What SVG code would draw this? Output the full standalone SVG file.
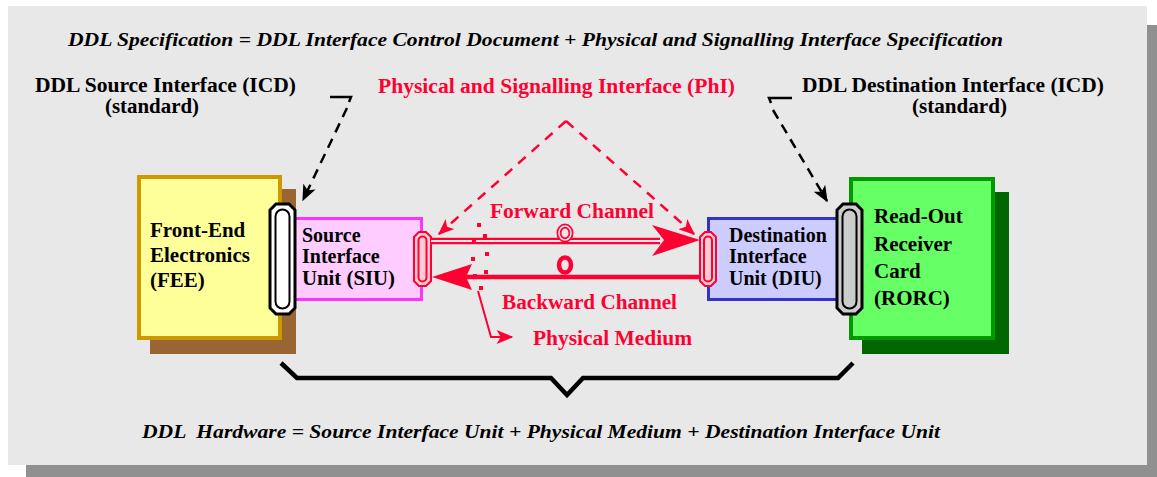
<svg xmlns="http://www.w3.org/2000/svg" width="1157" height="477" viewBox="0 0 1157 477">
<style>
.t{font-family:"Liberation Serif","Times New Roman",serif;font-weight:bold;font-size:20px;fill:#000}
.b{font-size:21px}
.ti{font-family:"Liberation Serif","Times New Roman",serif;font-weight:bold;font-style:italic;font-size:19.5px;fill:#000}
.r{fill:#ff0033}
.dashk{fill:none;stroke:#000;stroke-width:2.5;stroke-dasharray:10 7}
.dashr{fill:none;stroke:#ff0033;stroke-width:2.5;stroke-dasharray:10 8}
.conR{fill:#ffccd5;stroke:#ff0033;stroke-width:2}
</style>
<defs>
<marker id="ak" viewBox="0 0 12 10" refX="11" refY="5" markerWidth="6.5" markerHeight="5.5" orient="auto" markerUnits="strokeWidth">
<path d="M0,0 L12,5 L0,10 L3,5 Z" fill="#000"/>
</marker>
<marker id="ar" viewBox="0 0 12 10" refX="11" refY="5" markerWidth="6.5" markerHeight="5.5" orient="auto" markerUnits="strokeWidth">
<path d="M0,0 L12,5 L0,10 L3,5 Z" fill="#ff0033"/>
</marker>
<marker id="ar2" viewBox="0 0 12 10" refX="11" refY="5" markerWidth="9" markerHeight="7" orient="auto" markerUnits="strokeWidth">
<path d="M0,0 L12,5 L0,10 L3,5 Z" fill="#ff0033"/>
</marker>
</defs>

<g id="background">
<rect x="26" y="25" width="1131" height="452" fill="#909090"/>
<rect x="8" y="6" width="1139" height="459" fill="#e8e8e8"/>
</g>

<g id="titles">
<text class="ti" x="68" y="46" textLength="935" lengthAdjust="spacingAndGlyphs">DDL Specification = DDL Interface Control Document + Physical and Signalling Interface Specification</text>
<text class="ti" x="142" y="438" textLength="798" lengthAdjust="spacingAndGlyphs" xml:space="preserve">DDL  Hardware = Source Interface Unit + Physical Medium + Destination Interface Unit</text>
</g>

<g id="label-source-icd">
<text class="t" x="35" y="92" textLength="261" lengthAdjust="spacingAndGlyphs">DDL Source Interface (ICD)</text>
<text class="t" x="105" y="113" textLength="94" lengthAdjust="spacingAndGlyphs">(standard)</text>
</g>
<g id="label-phi">
<text class="t r" x="378" y="93" textLength="357" lengthAdjust="spacingAndGlyphs">Physical and Signalling Interface (PhI)</text>
</g>
<g id="label-dest-icd">
<text class="t" x="802" y="92" textLength="302" lengthAdjust="spacingAndGlyphs">DDL Destination Interface (ICD)</text>
<text class="t" x="912" y="113" textLength="95" lengthAdjust="spacingAndGlyphs">(standard)</text>
</g>

<g id="fee">
<rect x="150" y="189" width="146" height="165" fill="#996633"/>
<rect x="139" y="177" width="141" height="161" fill="#ffff99" stroke="#cc9900" stroke-width="4"/>
<text class="t b" x="150" y="237">Front-End</text>
<text class="t b" x="150" y="262">Electronics</text>
<text class="t b" x="150" y="287">(FEE)</text>
</g>

<g id="rorc">
<rect x="862" y="192" width="147" height="162" fill="#006600"/>
<rect x="851" y="179" width="142" height="159" fill="#66ff66" stroke="#009900" stroke-width="4"/>
<text class="t b" x="874" y="223">Read-Out</text>
<text class="t b" x="874" y="251">Receiver</text>
<text class="t b" x="874" y="278">Card</text>
<text class="t b" x="874" y="305">(RORC)</text>
</g>

<g id="siu">
<rect x="294.5" y="218.5" width="127" height="81" fill="#ffccff" stroke="#ff33ff" stroke-width="3"/>
<text class="t" x="302" y="242">Source</text>
<text class="t" x="302" y="263">Interface</text>
<text class="t" x="302" y="285" textLength="93" lengthAdjust="spacingAndGlyphs">Unit (SIU)</text>
</g>

<g id="diu">
<rect x="708.5" y="218.5" width="137" height="81" fill="#ccccff" stroke="#3333cc" stroke-width="3"/>
<text class="t" x="729" y="242">Destination</text>
<text class="t" x="729" y="263">Interface</text>
<text class="t" x="729" y="285">Unit (DIU)</text>
</g>

<g id="fee-connector">
<path d="M276,204 L289,204 L295,210 L295,308 L289,314 L276,314 L270,308 L270,210 Z" fill="#fff" stroke="#000" stroke-width="3"/>
<rect x="275.5" y="209.5" width="14" height="99" rx="7" fill="#fff" stroke="#000" stroke-width="2"/>
</g>
<g id="rorc-connector">
<path d="M843,204 L856,204 L862,210 L862,308 L856,314 L843,314 L837,308 L837,210 Z" fill="#cccccc" stroke="#000" stroke-width="3"/>
<rect x="842.5" y="209.5" width="14" height="99" rx="7" fill="#cccccc" stroke="#000" stroke-width="2"/>
</g>
<g id="siu-connector">
<path d="M419,232 L426,232 L431,237 L431,281 L426,286 L419,286 L414,281 L414,237 Z" class="conR"/>
<rect x="418.5" y="236.5" width="8" height="45" rx="4" class="conR"/>
</g>
<g id="diu-connector">
<path d="M705,232 L711,232 L716,237 L716,281 L711,286 L705,286 L700,281 L700,237 Z" class="conR"/>
<rect x="704" y="236.5" width="8" height="45" rx="4" class="conR"/>
</g>

<g id="connectors">
<!-- forward channel -->
<line x1="431" y1="241" x2="660" y2="241" stroke="#ff0033" stroke-width="6.5"/>
<line x1="431" y1="241" x2="660" y2="241" stroke="#fbe9ec" stroke-width="2"/>
<ellipse cx="565" cy="233" rx="6" ry="7" fill="none" stroke="#ff0033" stroke-width="5"/>
<ellipse cx="565" cy="233" rx="6" ry="7" fill="none" stroke="#fbe9ec" stroke-width="1.5"/>
<polygon points="700,240 652,225 664,240 652,256" fill="#ff0033"/>
<!-- backward channel -->
<line x1="700" y1="277" x2="465" y2="277" stroke="#ff0033" stroke-width="4.5"/>
<polygon points="432,277 472,264 466,277 472,290" fill="#ff0033"/>
<ellipse cx="565" cy="265" rx="6" ry="7.5" fill="none" stroke="#ff0033" stroke-width="4.5"/>
<!-- physical medium dots and pointer -->
<g fill="#ff0033">
<rect x="477" y="223" width="4" height="4"/>
<rect x="483" y="234" width="4" height="4"/>
<rect x="472" y="239" width="4" height="4"/>
<rect x="485" y="252" width="4" height="4"/>
<rect x="471" y="257" width="4" height="4"/>
<rect x="484" y="270" width="4" height="4"/>
<rect x="473" y="274" width="4" height="4"/>
<rect x="479" y="286" width="4" height="4"/>
</g>
<polyline points="478,291 491,337 512,337" fill="none" stroke="#ff0033" stroke-width="2" marker-end="url(#ar2)"/>
<text class="t r" x="502" y="309" textLength="175" lengthAdjust="spacingAndGlyphs">Backward Channel</text>
<text class="t r" x="490" y="218" textLength="164" lengthAdjust="spacingAndGlyphs">Forward Channel</text>
<text class="t r" x="533" y="345" textLength="159" lengthAdjust="spacingAndGlyphs">Physical Medium</text>
<!-- PhI dashed arrows -->
<path d="M566,121 L439,234" class="dashr" marker-end="url(#ar)"/>
<path d="M566,121 L694,234" class="dashr" marker-end="url(#ar)"/>
<!-- ICD dashed arrows -->
<path d="M330,97 L351,97 L349,102" fill="none" stroke="#000" stroke-width="2.5"/>
<path d="M347,108 L303,200" class="dashk" marker-end="url(#ak)"/>
<path d="M792,98 L769,98 L771,103" fill="none" stroke="#000" stroke-width="2.5"/>
<path d="M773,110 L827,201" class="dashk" marker-end="url(#ak)"/>
<!-- brace -->
<polyline points="281,363 297,378 551,378 567,395 583,378 838,378 853,363" fill="none" stroke="#000" stroke-width="4.5"/>
</g>
</svg>
